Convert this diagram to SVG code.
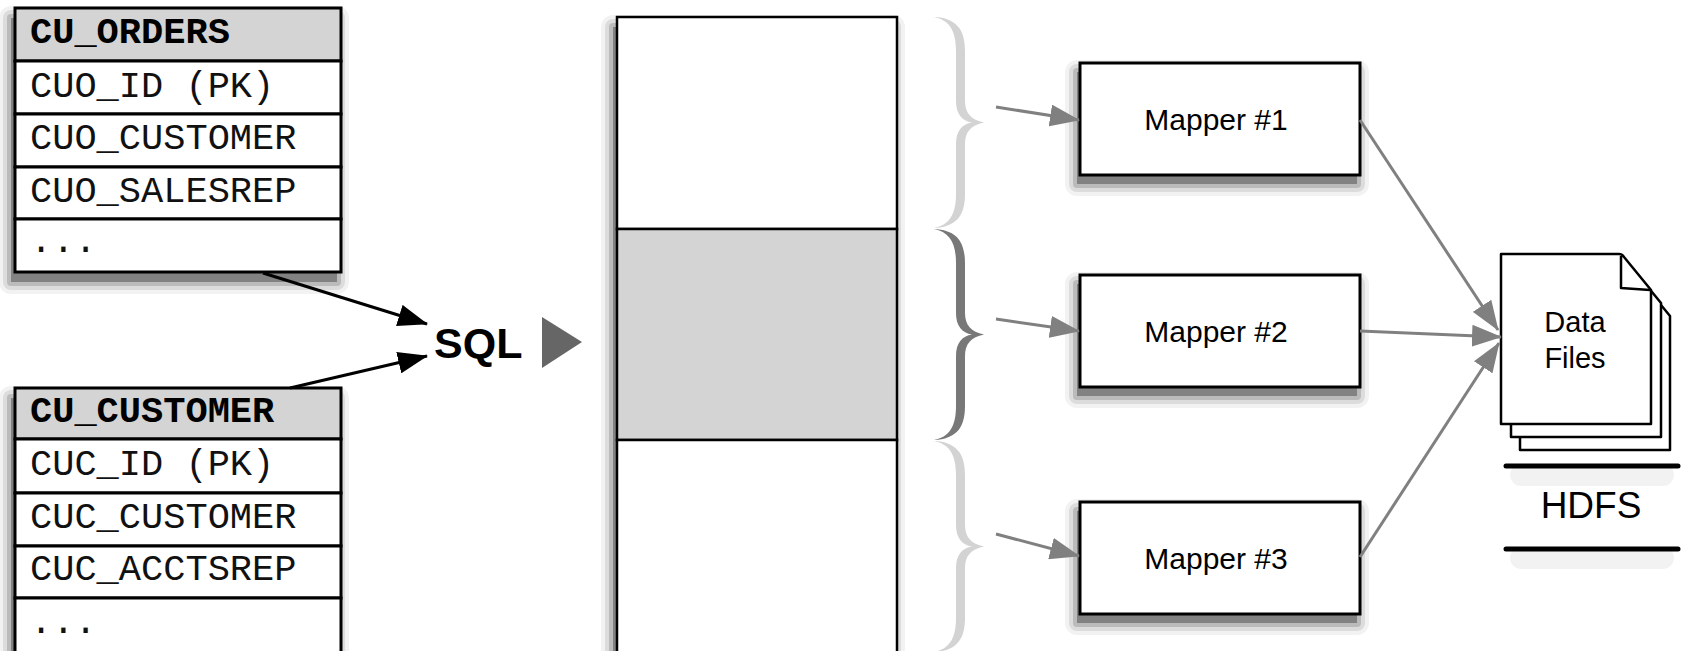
<svg xmlns="http://www.w3.org/2000/svg" width="1683" height="651" viewBox="0 0 1683 651">
<style>
.mono{font-family:"Liberation Mono","Courier New",monospace;font-size:37px;fill:#111}
.monob{font-family:"Liberation Mono","Courier New",monospace;font-size:37px;font-weight:bold;fill:#000}
.sans{font-family:"Liberation Sans",Arial,Helvetica,sans-serif;fill:#000}
.cell{fill:#fff;stroke:#000;stroke-width:3}
.head{fill:#d4d4d4;stroke:#000;stroke-width:3}
.box{fill:#fff;stroke:#000;stroke-width:3}
.doc{fill:#fff;stroke:#000;stroke-width:2.5;stroke-linejoin:round}
.blk{stroke:#000;stroke-width:3;fill:none}
.gry{stroke:#808080;stroke-width:3;fill:none}
.s1{fill:#000;fill-opacity:.05}
.s2{fill:#000;fill-opacity:.09}
.s3{fill:#000;fill-opacity:.15}
.s4{fill:#000;fill-opacity:.3}
</style>
<defs>
<marker id="ab" markerUnits="userSpaceOnUse" markerWidth="30" markerHeight="22" refX="29" refY="11" orient="auto">
<path d="M0 0 L30 11 L0 22 Z" fill="#000"/>
</marker>
<marker id="ag" markerUnits="userSpaceOnUse" markerWidth="30" markerHeight="22" refX="29" refY="11" orient="auto">
<path d="M0 0 L30 11 L0 22 Z" fill="#808080"/>
</marker>
<path id="brace" d="M0 0 C22 1 31 12 31 34 L31 84 C31 96 37 103 50 105.5 C37 108 31 115 31 127 L31 177 C31 199 22 210 0 211 C15 208 22 198 22 177 L22 127 C22 114 28 107 38 105.5 C28 104 22 97 22 84 L22 34 C22 13 15 3 0 0 Z"/>
<path id="page" d="M0 0 L118 0 Q121 0 123 3 L150 36 L150 170 L0 170 Z"/>
<g id="mshadow">
<rect class="s1" x="-12" y="-12" width="304" height="136" rx="12"/>
<rect class="s2" x="-8" y="-8" width="296" height="128" rx="8"/>
<rect class="s3" x="-4" y="-4" width="288" height="120" rx="4"/>
<rect class="s4" x="0" y="0" width="280" height="112"/>
</g>
</defs>
<rect width="1683" height="651" fill="#fff"/>

<g id="shadows">
<rect class="s1" x="-1" y="6" width="350" height="288" rx="12"/>
<rect class="s2" x="3" y="10" width="342" height="280" rx="8"/>
<rect class="s3" x="7" y="14" width="334" height="272" rx="4"/>
<rect class="s4" x="11" y="18" width="326" height="264"/>
<rect class="s1" x="-1" y="386" width="350" height="290" rx="12"/>
<rect class="s2" x="3" y="390" width="342" height="282" rx="8"/>
<rect class="s3" x="7" y="394" width="334" height="274" rx="4"/>
<rect class="s4" x="11" y="398" width="326" height="266"/>
<rect class="s1" x="601" y="15" width="304" height="661" rx="12"/>
<rect class="s2" x="605" y="19" width="296" height="653" rx="8"/>
<rect class="s3" x="609" y="23" width="288" height="645" rx="4"/>
<rect class="s4" x="613" y="27" width="280" height="637"/>
<use href="#mshadow" transform="translate(1077,72)"/>
<use href="#mshadow" transform="translate(1077,284)"/>
<use href="#mshadow" transform="translate(1077,511)"/>
<rect class="s1" x="1510" y="464" width="164" height="22" rx="11"/>
<rect class="s1" x="1510" y="547" width="164" height="22" rx="11"/>
</g>

<g id="cu_orders">
<rect class="head" x="15" y="8" width="326" height="53"/>
<rect class="cell" x="15" y="61" width="326" height="53"/>
<rect class="cell" x="15" y="114" width="326" height="53"/>
<rect class="cell" x="15" y="167" width="326" height="52"/>
<rect class="cell" x="15" y="219" width="326" height="53"/>
<text class="monob" x="30" y="43">CU_ORDERS</text>
<text class="mono" x="30" y="97">CUO_ID (PK)</text>
<text class="mono" x="30" y="149">CUO_CUSTOMER</text>
<text class="mono" x="30" y="202">CUO_SALESREP</text>
<text class="mono" x="30" y="252">...</text>
</g>

<g id="cu_customer">
<rect class="head" x="15" y="388" width="326" height="51"/>
<rect class="cell" x="15" y="439" width="326" height="54"/>
<rect class="cell" x="15" y="493" width="326" height="53"/>
<rect class="cell" x="15" y="546" width="326" height="52"/>
<rect class="cell" x="15" y="598" width="326" height="56"/>
<text class="monob" x="30" y="422">CU_CUSTOMER</text>
<text class="mono" x="30" y="475">CUC_ID (PK)</text>
<text class="mono" x="30" y="528">CUC_CUSTOMER</text>
<text class="mono" x="30" y="580">CUC_ACCTSREP</text>
<text class="mono" x="30" y="633">...</text>
</g>

<g id="sql">
<text class="sans" x="434" y="358" font-size="43" font-weight="bold">SQL</text>
</g>

<g id="result_column">
<rect x="617" y="17" width="280" height="212" fill="#fff" stroke="#000" stroke-width="2.5"/>
<rect x="617" y="229" width="280" height="211" fill="#d4d4d4" stroke="#000" stroke-width="2.5"/>
<rect x="617" y="440" width="280" height="214" fill="#fff" stroke="#000" stroke-width="2.5"/>
</g>

<g id="braces">
<use href="#brace" transform="translate(934,17)" fill="#d3d3d3"/>
<use href="#brace" transform="translate(934,229)" fill="#787878"/>
<use href="#brace" transform="translate(934,441)" fill="#d3d3d3"/>
</g>

<g id="mapper1">
<rect class="box" x="1080" y="63" width="280" height="112"/>
<text class="sans" x="1216" y="130" font-size="30" text-anchor="middle">Mapper #1</text>
</g>
<g id="mapper2">
<rect class="box" x="1080" y="275" width="280" height="112"/>
<text class="sans" x="1216" y="342" font-size="30" text-anchor="middle">Mapper #2</text>
</g>
<g id="mapper3">
<rect class="box" x="1080" y="502" width="280" height="112"/>
<text class="sans" x="1216" y="569" font-size="30" text-anchor="middle">Mapper #3</text>
</g>

<g id="data_files">
<use href="#page" class="doc" transform="translate(1520,280)"/>
<use href="#page" class="doc" transform="translate(1511,267)"/>
<use href="#page" class="doc" transform="translate(1501,254)"/>
<path d="M1621 256 L1621 288 L1650 290" fill="none" stroke="#000" stroke-width="2.5" stroke-linejoin="round"/>
<text class="sans" x="1575" y="332" font-size="29" text-anchor="middle">Data</text>
<text class="sans" x="1575" y="368" font-size="29" text-anchor="middle">Files</text>
</g>

<g id="hdfs">
<line x1="1506" y1="466" x2="1678" y2="466" stroke="#000" stroke-width="5" stroke-linecap="round"/>
<line x1="1506" y1="549" x2="1678" y2="549" stroke="#000" stroke-width="5" stroke-linecap="round"/>
<text class="sans" x="1591" y="518" font-size="37" text-anchor="middle">HDFS</text>
</g>

<g id="connectors">
<line class="blk" x1="263" y1="273" x2="427" y2="324" marker-end="url(#ab)"/>
<line class="blk" x1="290" y1="388" x2="427" y2="356" marker-end="url(#ab)"/>
<polygon points="542,317 582,342 542,368" fill="#666"/>
<line class="gry" x1="996" y1="107" x2="1079" y2="120" marker-end="url(#ag)"/>
<line class="gry" x1="996" y1="319" x2="1079" y2="331" marker-end="url(#ag)"/>
<line class="gry" x1="996" y1="534" x2="1079" y2="556" marker-end="url(#ag)"/>
<line class="gry" x1="1360" y1="120" x2="1498" y2="330" stroke-width="2.5" marker-end="url(#ag)"/>
<line class="gry" x1="1360" y1="331" x2="1501" y2="337" stroke-width="2.5" marker-end="url(#ag)"/>
<line class="gry" x1="1360" y1="557" x2="1499" y2="343" stroke-width="2.5" marker-end="url(#ag)"/>
</g>
</svg>
